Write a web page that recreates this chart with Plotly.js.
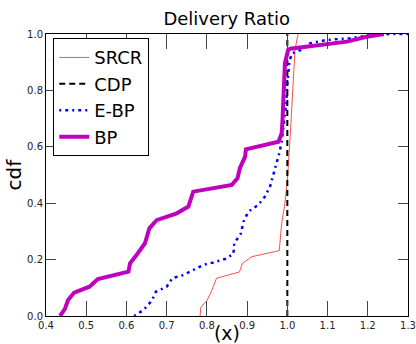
<!DOCTYPE html>
<html><head><meta charset="utf-8">
<script src="https://cdn.plot.ly/plotly-3.0.1.min.js"></script>
<style>html,body{margin:0;padding:0;background:#fff}#c{width:416px;height:344px}</style>
</head><body><div id="c"></div>
<script>
const srcrX = [0.783,0.785,0.7995,0.81,0.824,0.881,0.888,0.911,0.98,0.986,0.994,1.0,1.008,1.015,1.019,1.026,1.027];
const srcrY = [0.0,0.031,0.054,0.083,0.134,0.156,0.186,0.21,0.232,0.329,0.40,0.48,0.66,0.872,0.943,0.996,1.0];
const cdpX = [1.0,1.0];
const cdpY = [0.0,1.0];
const ebpX = [0.619,0.642,0.663,0.673,0.700,0.714,0.741,0.766,0.791,0.816,0.845,0.866,0.868,0.884,0.891,0.903,0.928,0.944,0.957,0.965,0.974,0.98,0.986,0.99,0.997,1.0,1.005,1.011,1.023,1.038,1.056,1.098,1.156,1.206,1.255,1.3];
const ebpY = [0.0,0.021,0.054,0.086,0.104,0.134,0.145,0.163,0.181,0.19,0.202,0.22,0.258,0.291,0.334,0.37,0.394,0.423,0.459,0.5,0.541,0.577,0.618,0.671,0.75,0.825,0.90,0.931,0.937,0.946,0.967,0.979,0.985,0.996,1.0,1.0];
const bpX = [0.435,0.447,0.455,0.47,0.508,0.529,0.605,0.609,0.625,0.646,0.657,0.675,0.725,0.754,0.766,0.862,0.876,0.882,0.895,0.897,0.978,0.986,0.988,0.994,1.002,1.007,1.148,1.197,1.24];
const bpY = [0.0,0.025,0.057,0.083,0.104,0.131,0.157,0.187,0.216,0.258,0.311,0.34,0.364,0.388,0.441,0.465,0.488,0.524,0.565,0.591,0.618,0.648,0.695,0.896,0.943,0.948,0.973,0.99,1.0];

const F = "DejaVu Sans, sans-serif";
const traces = [
  {x: srcrX, y: srcrY, name: 'SRCR', mode: 'lines', line: {color: '#ff4d4d', width: 1}},
  {x: cdpX, y: cdpY, name: 'CDP', mode: 'lines', line: {color: '#000', width: 2, dash: '6px,4px'}},
  {x: ebpX, y: ebpY, name: 'E-BP', mode: 'lines', line: {color: '#0000ff', width: 2.5, dash: '2px,4px,3px,4px'}},
  {x: bpX, y: bpY, name: 'BP', mode: 'lines', line: {color: '#bf00bf', width: 4}}
];
const layout = {
  width: 416, height: 344,
  margin: {l: 46, r: 8, t: 34, b: 28},
  paper_bgcolor: '#fff', plot_bgcolor: '#fff',
  font: {family: F, color: '#000'},
  title: {text: 'Delivery Ratio', font: {size: 18, family: F}, x: 0.545, xanchor: 'center', y: 0.945, yanchor: 'middle'},
  showlegend: true,
  legend: {x: 0.02, y: 0.985, xanchor: 'left', yanchor: 'top', bordercolor: '#000', borderwidth: 1,
           bgcolor: '#fff', font: {size: 18, family: F}, tracegroupgap: 0, itemwidth: 30},
  xaxis: {range: [0.4, 1.3], dtick: 0.1, tick0: 0.4, tickformat: '.1f', ticks: 'inside', ticklen: 15,
          tickcolor: '#444', mirror: 'allticks', showline: true, linecolor: '#000', linewidth: 1,
          showgrid: false, zeroline: false, tickfont: {size: 10, family: F, color: '#222'},
          title: {text: '(x)', font: {size: 19, family: F}, standoff: 8}},
  yaxis: {range: [0, 1], dtick: 0.2, tickformat: '.1f', ticks: 'inside', ticklen: 10,
          tickcolor: '#444', mirror: 'allticks', showline: true, linecolor: '#000', linewidth: 1,
          showgrid: false, zeroline: false, tickfont: {size: 10, family: F, color: '#222'},
          title: {text: 'cdf', font: {size: 20, family: F}, standoff: 0}}
};
Plotly.newPlot('c', traces, layout, {displayModeBar: false, staticPlot: true});
</script></body></html>
